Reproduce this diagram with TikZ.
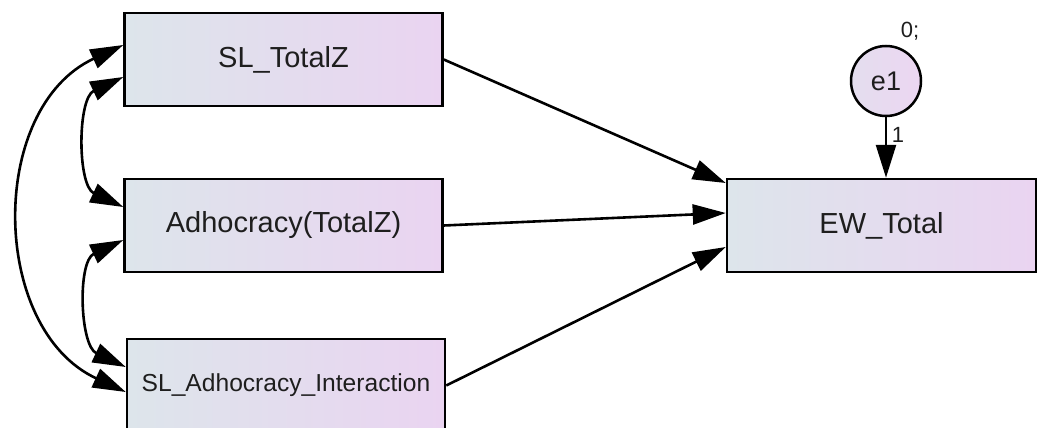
\documentclass[tikz,border=0pt]{standalone}
\usepackage{fontspec}
\setmainfont{Liberation Sans}
\usetikzlibrary{arrows.meta}
\definecolor{boxL}{RGB}{221,229,235}
\definecolor{boxR}{RGB}{234,212,241}
\definecolor{circL}{RGB}{228,222,238}
\definecolor{circR}{RGB}{236,214,242}
\definecolor{ink}{RGB}{30,30,30}
\begin{document}
\begin{tikzpicture}[x=1pt,y=-1pt,
  obs/.style={draw=black, line width=2.5pt, left color=boxL, right color=boxR,
    minimum width=318pt, minimum height=93pt, inner sep=0pt, text=ink,
    font=\fontsize{29}{34}\selectfont},
  latent/.style={circle, draw=black, line width=2.5pt, left color=circL, right color=circR,
    minimum size=70pt, inner sep=0pt, text=ink, font=\fontsize{27}{32}\selectfont},
  small/.style={inner sep=0pt, text=ink, font=\fontsize{22}{26}\selectfont},
  tip/.tip={Triangle[length=33pt,width=20pt]},
  arr/.style={line width=2.6pt, -tip},
  cov/.style={line width=2.6pt, tip-tip}]
\useasboundingbox (0,0) rectangle (1039,428);

% observed variables
\node[obs] (sl) at (283.5,59.5) {SL\_TotalZ};
\node[obs] (ad) at (283.5,225.5) {Adhocracy(TotalZ)};
\node[obs, font=\fontsize{24.6}{30}\selectfont] (int) at (286,385.5) {SL\_Adhocracy\_Interaction};
\node[obs, minimum width=309pt] (ew) at (881.5,225.5) {EW\_Total};

% error term
\node[latent] (e1) at (886,81) {e1};
\node[small] (lab0) at (910,31) {0;};
\node[small] (lab1) at (898,135) {1};

% regression paths
\draw[arr] (sl.east) -- ([yshift=42.5pt]ew.west);
\draw[arr] (ad.east) -- ([yshift=12.5pt]ew.west);
\draw[arr] (int.east) -- ([yshift=-21.5pt]ew.west);
\draw[arr] (e1.south) -- (e1.south |- ew.north);

% covariances
\draw[cov] ([yshift=14.5pt]sl.west) .. controls +(-136,63) and +(-136,-63) .. ([yshift=-6.5pt]int.west);
\draw[cov] ([yshift=-17.5pt]sl.west) .. controls +(-46,21.5) and +(-46,-21.5) .. ([yshift=18.5pt]ad.west);
\draw[cov] ([yshift=-14.5pt]ad.west) .. controls +(-46,21.5) and +(-46,-21.5) .. ([yshift=18.5pt]int.west);
\end{tikzpicture}
\end{document}
